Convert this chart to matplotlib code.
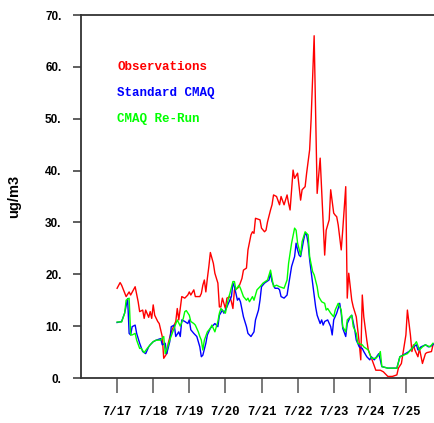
import matplotlib
matplotlib.use("Agg")
import matplotlib.pyplot as plt

# ---- data (hours since 7/17 00:00, ug/m3) ----
obs_hours = [0, 2, 3, 6, 8, 9, 12, 14, 15, 17, 18, 19, 21, 22, 23, 24, 25, 27, 28, 30,
             31, 33, 34, 36, 39, 40, 41, 43, 45, 47, 48, 49, 51, 52, 55, 56, 57, 58, 59, 60,
             61, 62, 64, 65, 67, 68, 69, 70, 72, 73, 75, 76, 77, 78, 80, 81, 83, 84, 86, 87,
             89, 90, 91, 92, 94, 95, 96, 98, 99, 100, 102, 103, 104, 106, 108, 109, 111, 113, 114, 115,
             117, 118, 120, 122, 123, 125, 126, 128, 129, 130, 131, 133, 135, 136, 138, 139, 141, 142, 144, 145,
             146, 147, 149, 150, 152, 153, 154, 156, 157, 159, 161, 162, 163, 164, 166, 167, 170, 172, 175, 177,
             180, 183, 186, 187, 189, 191, 192, 193, 195, 196, 197, 198, 200, 201, 203, 205, 206, 209, 210]
obs_vals = [17.3, 18.4, 17.9, 15.7, 16.6, 16.0, 17.6, 14.7, 12.8, 13.1, 11.5, 13.1, 11.7, 12.8, 11.5, 14.1, 12.1, 10.9, 10.5, 8.0,
            3.8, 4.7, 6.7, 8.9, 10.9, 13.4, 11.2, 15.7, 15.4, 16.0, 16.6, 16.0, 17.0, 15.7, 15.7, 16.3, 17.9, 18.9, 16.6, 19.2,
            21.5, 24.2, 22.1, 20.2, 18.3, 13.7, 13.7, 15.4, 13.4, 15.4, 15.7, 14.7, 13.4, 17.0, 17.3, 17.6, 19.2, 20.8, 21.2, 24.7,
            27.6, 28.2, 27.9, 30.8, 30.6, 30.5, 28.9, 28.2, 28.5, 30.1, 32.4, 33.4, 35.3, 35.0, 33.4, 35.0, 33.4, 35.3, 33.7, 32.4,
            40.1, 38.5, 39.5, 34.3, 36.3, 36.9, 39.5, 44.0, 50.0, 58.0, 66.0, 35.6, 42.4, 36.3, 23.7, 28.5, 30.5, 36.3, 31.8, 31.4,
            31.1, 29.5, 24.7, 28.5, 36.9, 15.4, 20.2, 15.0, 13.7, 11.8, 6.7, 3.5, 16.0, 11.8, 7.3, 5.4, 3.1, 1.5, 1.5, 1.2,
            0.3, 0.3, 0.6, 1.9, 2.8, 6.4, 8.3, 13.1, 8.3, 5.1, 6.4, 5.4, 4.1, 5.7, 2.8, 4.7, 4.9, 5.1, 6.4]

std_hours = [0, 3, 5, 7, 8, 9, 10, 12, 13, 15, 17, 19, 21, 22, 24, 26, 29, 30, 32, 33,
             35, 36, 38, 39, 41, 42, 43, 45, 47, 48, 49, 51, 53, 55, 56, 57, 59, 60, 62, 64,
             65, 67, 68, 70, 71, 73, 74, 76, 77, 78, 80, 81, 82, 84, 86, 87, 89, 91, 92, 94,
             95, 96, 98, 101, 102, 103, 105, 107, 108, 109, 111, 113, 114, 116, 118, 119, 120, 121, 122, 124,
             125, 126, 127, 128, 130, 131, 132, 133, 135, 136, 137, 138, 140, 142, 143, 144, 146, 148, 149, 150,
             152, 153, 155, 156, 158, 159, 161, 163, 164, 166, 168, 169, 171, 174, 176, 180, 186, 188, 190, 194,
             197, 199, 200, 202, 205, 207, 209, 211]
std_vals = [10.7, 10.9, 12.5, 15.3, 8.6, 8.3, 9.9, 10.2, 8.6, 6.7, 5.1, 4.7, 6.0, 6.4, 7.0, 7.3, 7.6, 6.4, 6.7, 4.7,
            7.0, 9.9, 10.2, 8.0, 8.9, 8.0, 11.2, 10.9, 10.5, 11.2, 9.3, 8.6, 8.0, 6.0, 4.1, 4.4, 6.7, 8.3, 9.6, 10.2,
            10.5, 9.9, 12.1, 13.1, 12.5, 13.7, 14.4, 15.7, 18.3, 17.6, 15.0, 15.4, 14.7, 11.8, 9.9, 8.6, 8.0, 8.9, 11.2, 13.1,
            15.0, 17.6, 18.3, 18.9, 20.2, 18.6, 17.3, 17.3, 17.0, 15.7, 15.4, 16.0, 17.9, 21.5, 23.4, 26.0, 24.7, 23.7, 23.4, 26.6,
            27.9, 27.6, 26.0, 22.8, 18.3, 16.0, 13.7, 12.1, 10.5, 11.2, 10.2, 10.9, 11.2, 9.9, 8.3, 11.2, 12.5, 14.4, 12.5, 9.6,
            8.0, 10.5, 11.8, 12.1, 9.3, 7.3, 6.0, 5.7, 5.1, 4.1, 3.5, 4.1, 3.5, 4.7, 2.2, 1.9, 1.9, 4.1, 4.4, 5.1,
            6.0, 6.4, 5.4, 6.0, 6.4, 6.0, 6.2, 6.7]

rerun_hours = [0, 3, 5, 6, 8, 9, 10, 12, 13, 15, 16, 18, 20, 22, 24, 26, 29, 31, 32, 33,
               35, 37, 40, 42, 44, 45, 46, 48, 49, 51, 52, 54, 55, 56, 57, 58, 60, 62, 63, 65,
               67, 68, 69, 71, 72, 74, 75, 77, 78, 79, 81, 82, 84, 86, 87, 88, 90, 91, 93, 95,
               97, 100, 102, 104, 106, 108, 111, 113, 114, 116, 118, 119, 120, 122, 123, 125, 127, 128, 130, 131,
               133, 134, 136, 138, 139, 140, 142, 144, 145, 147, 149, 150, 152, 153, 156, 157, 159, 160, 163, 164,
               167, 169, 172, 174, 175, 176, 180, 186, 188, 193, 196, 199, 201, 203, 205, 208, 210]
rerun_vals = [10.8, 10.8, 12.5, 15.0, 15.4, 8.3, 8.3, 8.6, 7.3, 5.7, 5.7, 4.9, 5.7, 6.4, 7.0, 7.3, 7.3, 8.0, 4.7, 5.4,
              7.3, 8.9, 11.2, 10.0, 11.5, 12.8, 13.0, 12.1, 10.9, 10.5, 10.2, 8.9, 8.0, 7.3, 5.4, 7.3, 8.9, 9.6, 10.2, 8.9,
              10.9, 12.5, 13.4, 12.8, 12.5, 15.4, 16.3, 18.6, 18.6, 17.0, 17.9, 17.3, 15.7, 15.0, 15.4, 14.7, 15.7, 15.0, 17.0, 17.6,
              18.3, 18.9, 20.8, 17.6, 17.9, 17.6, 17.3, 18.9, 22.1, 26.0, 28.9, 28.5, 26.0, 23.7, 26.3, 28.2, 27.6, 23.4, 20.5, 19.9,
              17.6, 15.7, 14.7, 14.4, 13.1, 13.4, 12.5, 11.8, 13.1, 14.4, 13.1, 9.9, 8.9, 11.2, 12.1, 9.9, 8.6, 6.7, 6.4, 6.0,
              5.4, 3.8, 3.8, 4.4, 5.1, 2.2, 1.9, 1.9, 4.1, 4.7, 5.7, 7.0, 5.4, 6.0, 6.4, 6.0, 6.7]

tick_hours = [0, 24, 48, 72, 96, 120, 144, 168, 192]
tick_labels = ["7/17", "7/18", "7/19", "7/20", "7/21", "7/22", "7/23", "7/24", "7/25"]
y_ticks = [0, 10, 20, 30, 40, 50, 60, 70]
series_names = ["Observations", "Standard CMAQ", "CMAQ Re-Run"]
series_colors = ["#ff0000", "#0000ff", "#00ff00"]

# ---- figure ----
W, H = 435, 423
fig = plt.figure(figsize=(W / 100, H / 100), dpi=100)
left_px, right_px, top_px, bottom_px = 81, 442, 15, 378
ax = fig.add_axes([left_px / W, (H - bottom_px) / H,
                   (right_px - left_px) / W, (bottom_px - top_px) / H])

ax.plot(obs_hours, obs_vals, color=series_colors[0], lw=1.0, zorder=3)
ax.plot(std_hours, std_vals, color=series_colors[1], lw=1.0, zorder=4)
ax.plot(rerun_hours, rerun_vals, color=series_colors[2], lw=1.0, zorder=5)

ax.set_xlim(-24, 216)
ax.set_ylim(0, 70)

for s in ["left", "top", "bottom", "right"]:
    ax.spines[s].set_color("#333333")
    ax.spines[s].set_linewidth(1.3)

ax.set_yticks(y_ticks)
ax.set_yticklabels([f"{v}." for v in y_ticks], fontfamily="Liberation Sans",
                   fontweight="bold", fontsize=8.5)
ax.tick_params(axis="y", direction="out", length=6, width=1.1, color="#333333", pad=8)

ax.set_xticks(tick_hours)
ax.set_xticklabels(tick_labels, fontfamily="Liberation Mono", fontweight="bold", fontsize=8.8)
ax.tick_params(axis="x", direction="out", length=11, width=1.1, color="#555555", pad=9)

ax.set_ylabel("ug/m3", fontfamily="Liberation Sans", fontweight="bold", fontsize=10.5)
ax.yaxis.set_label_coords(-0.165, 0.5)

for i, (name, col) in enumerate(zip(series_names, series_colors)):
    ax.text(0, 60 - 5 * i, name, color=col, fontfamily="Liberation Mono",
            fontweight="bold", fontsize=9, ha="left", va="center")

fig.savefig("out.png", dpi=100)
